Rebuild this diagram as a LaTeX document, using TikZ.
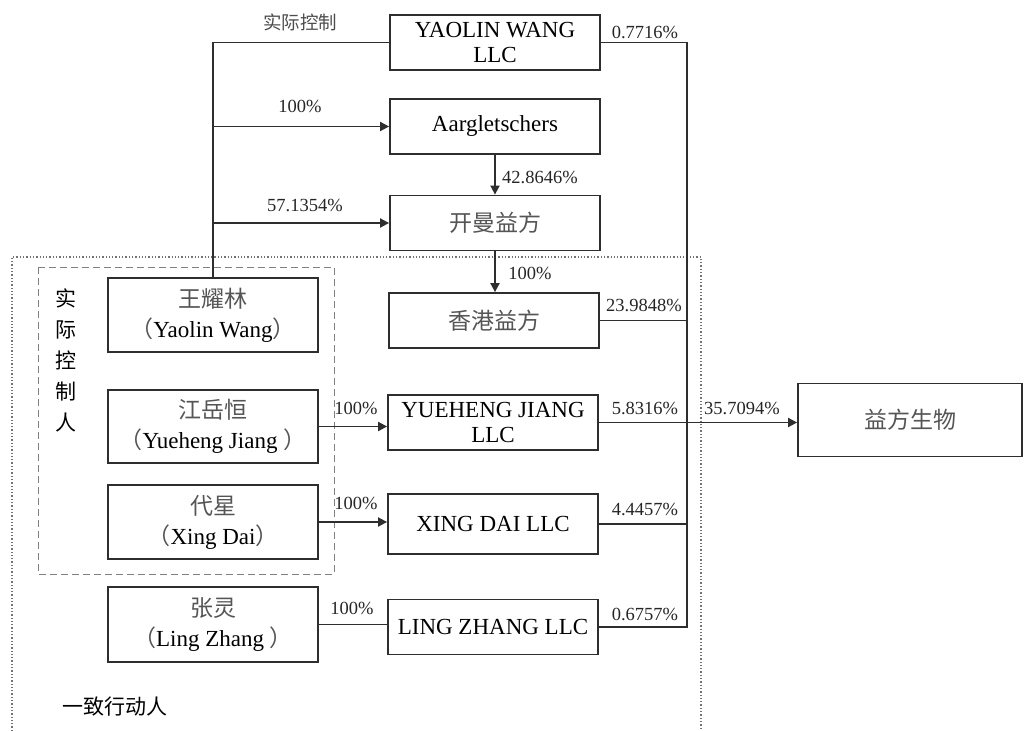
\documentclass[tikz,border=0pt]{standalone}
\usepackage{fontspec}
\setmainfont{Liberation Serif}
\newfontfamily\cjk{Noto Sans CJK SC}
\usetikzlibrary{arrows.meta, positioning}
\definecolor{boxline}{HTML}{2E2E2E}
\definecolor{cjktext}{HTML}{555555}
\newcommand{\zh}[1]{{\cjk\color{cjktext}#1}}
\tikzset{
  holdbox/.style = {draw=boxline, line width=1.8pt, align=center,
                    minimum width=210pt, minimum height=55pt, inner sep=2pt,
                    font=\fontsize{23}{25}\selectfont},
  personbox/.style = {holdbox, font=\fontsize{23}{30}\selectfont},
  pct/.style     = {font=\fontsize{18.5}{20}\selectfont, text=black!85, inner sep=1pt},
  link/.style    = {line width=1.8pt, draw=boxline},
  own/.style     = {link, -{Triangle[length=9pt, width=9pt]}},
}
\begin{document}
\begin{tikzpicture}[x=1pt, y=-1pt]
  \useasboundingbox (0,0) rectangle (1026,731);
  % group frames
  \draw[dotted, line width=1.3pt, black!55] (12,731) |- (701,257) -- (701,731);
  \draw[line width=1pt, black!50, dash pattern=on 7pt off 4pt]
      (38,267) rectangle (334,574);
  % holding companies
  \node[holdbox] (ylw) at (495,42.5) {YAOLIN WANG\\LLC};
  \node[holdbox] (aarg) at (495,126.5) {Aargletschers};
  \node[holdbox] (kaiman) at (495,223) {\zh{开曼益方}};
  \node[holdbox] (hk) at (494,320.5) {\zh{香港益方}};
  \node[holdbox] (yj) at (493,422.5) {YUEHENG JIANG\\LLC};
  \node[holdbox, minimum height=60pt] (xd) at (493,524) {XING DAI LLC};
  \node[holdbox] (lz) at (493,627) {LING ZHANG LLC};
  \node[holdbox, minimum width=224pt, minimum height=73pt] (yfsw) at (910,420) {\zh{益方生物}};
  % persons
  \node[personbox, minimum height=74pt] (wang) at (213,315)
      {\zh{王耀林}\\\zh{（}Yaolin Wang\zh{）}};
  \node[personbox, minimum height=73pt] (jiang) at (213,426.5)
      {\zh{江岳恒}\\\zh{（}Yueheng Jiang \zh{）}};
  \node[personbox, minimum height=74pt] (dai) at (213,522)
      {\zh{代星}\\\zh{（}Xing Dai\zh{）}};
  \node[personbox, minimum height=75pt] (zhang) at (213,624.5)
      {\zh{张灵}\\\zh{（}Ling Zhang \zh{）}};
  % group labels
  \node[font=\fontsize{21}{31}\selectfont, align=center, inner sep=0pt] (skr) at (66,360)
      {{\cjk 实}\\{\cjk 际}\\{\cjk 控}\\{\cjk 制}\\{\cjk 人}};
  \node[font=\fontsize{21}{24}\selectfont, inner sep=0pt] (yzxd) at (115,707) {\cjk 一致行动人};
  % control of Yaolin Wang
  \draw[link] (wang.north) |- (ylw.west);
  \draw[own] (wang.north |- aarg.west) -- (aarg.west);
  \draw[own] (wang.north |- kaiman.west) -- (kaiman.west);
  \draw[own] (aarg.south) -- (kaiman.north);
  \draw[own] (kaiman.south) -- (kaiman.south |- hk.north);
  \node[pct, font=\fontsize{18.5}{20}\selectfont\cjk, text=black!70] at (300,22) {实际控制};
  \node[pct] at (300,106) {100\%};
  \node[pct] at (305,205) {57.1354\%};
  \node[pct] at (540,177) {42.8646\%};
  \node[pct] at (530,273) {100\%};
  % persons to their LLCs
  \draw[own] (jiang.east) -- (jiang.east -| yj.west);
  \draw[own] (dai.east) -- (dai.east -| xd.west);
  \draw[link] (zhang.east) -- (zhang.east -| lz.west);
  \node[pct] at (356,408) {100\%};
  \node[pct] at (356,503) {100\%};
  \node[pct] at (352,608) {100\%};
  % holdings in the listed company
  \coordinate (bus) at (687,0);
  \draw[link] (ylw.east) -- (ylw.east -| bus) -- (lz.east -| bus) -- (lz.east);
  \draw[link] (hk.east) -- (hk.east -| bus);
  \draw[link] (xd.east) -- (xd.east -| bus);
  \draw[own] (yj.east) -- (yj.east -| yfsw.west);
  \node[pct] at (645,32) {0.7716\%};
  \node[pct] at (644,305) {23.9848\%};
  \node[pct] at (645,408) {5.8316\%};
  \node[pct] at (645,509) {4.4457\%};
  \node[pct] at (645,614) {0.6757\%};
  \node[pct] at (742,408) {35.7094\%};
\end{tikzpicture}
\end{document}
